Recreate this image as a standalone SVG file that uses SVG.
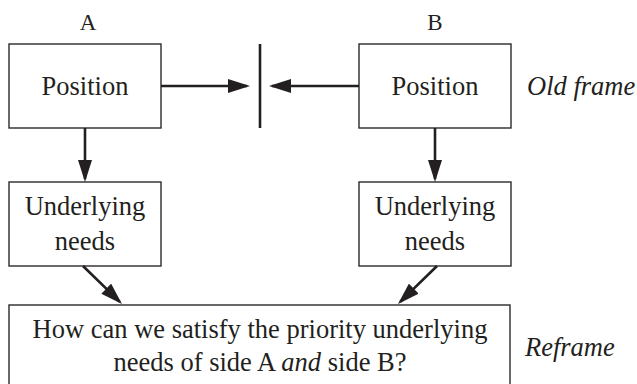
<svg xmlns="http://www.w3.org/2000/svg" width="637" height="384" viewBox="0 0 637 384">
<style>
.box{fill:#fff;stroke:#2b2829;stroke-width:1.4}
.t{font-family:"Liberation Serif","Times New Roman",serif;font-size:26.5px;fill:#231f20;text-anchor:middle}
.it{font-family:"Liberation Serif","Times New Roman",serif;font-size:26.5px;fill:#231f20;font-style:italic}
.lbl{font-family:"Liberation Serif","Times New Roman",serif;font-size:23px;fill:#231f20;text-anchor:middle}
.c{stroke:#231f20;stroke-width:2.6;fill:none}
</style>
<defs>
<marker id="ah" viewBox="0 0 22 14" refX="19" refY="7" markerWidth="22" markerHeight="14" markerUnits="userSpaceOnUse" orient="auto">
<path d="M0,0 L22,7 L0,14 Z" fill="#231f20"/>
</marker>
</defs>
<rect width="637" height="384" fill="#fff"/>
<text class="lbl" x="88" y="30">A</text>
<text class="lbl" x="435" y="30">B</text>
<g id="posA"><rect class="box" x="9" y="44" width="152" height="84"/><text class="t" x="85" y="95">Position</text></g>
<g id="posB"><rect class="box" x="359" y="44" width="152" height="84"/><text class="t" x="435" y="95">Position</text></g>
<g id="needA"><rect class="box" x="9" y="182" width="152" height="84"/><text class="t" x="85" y="215">Underlying</text><text class="t" x="85" y="250">needs</text></g>
<g id="needB"><rect class="box" x="359" y="182" width="152" height="84"/><text class="t" x="435" y="215">Underlying</text><text class="t" x="435" y="250">needs</text></g>
<g id="reframeBox"><rect class="box" x="9" y="305" width="501" height="90"/>
<text class="t" x="260" y="338">How can we satisfy the priority underlying</text>
<text class="t" x="260" y="371">needs of side A <tspan font-style="italic">and</tspan> side B?</text></g>
<g id="barrier"><line class="c" x1="260" y1="44" x2="260" y2="128"/></g>
<text class="it" x="527" y="95">Old frame</text>
<text class="it" x="525" y="356">Reframe</text>
<g id="connectors">
<line class="c" x1="161" y1="86" x2="247" y2="86" marker-end="url(#ah)"/>
<line class="c" x1="359" y1="86" x2="272" y2="86" marker-end="url(#ah)"/>
<line class="c" x1="85" y1="128" x2="85" y2="179" marker-end="url(#ah)"/>
<line class="c" x1="435" y1="128" x2="435" y2="179" marker-end="url(#ah)"/>
<line class="c" x1="83" y1="266" x2="119.85" y2="301.9" marker-end="url(#ah)"/>
<line class="c" x1="437" y1="266" x2="400.15" y2="301.9" marker-end="url(#ah)"/>
</g>
</svg>
